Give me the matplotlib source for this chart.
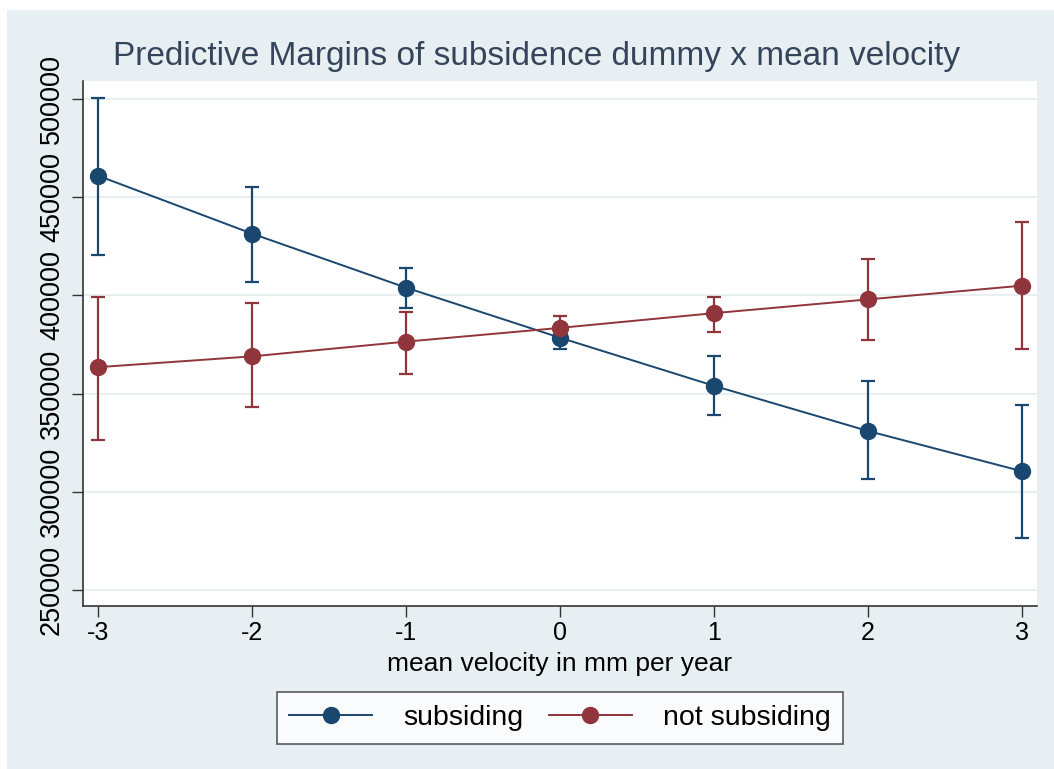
import matplotlib
matplotlib.use('Agg')
import matplotlib.pyplot as plt
from matplotlib.patches import Rectangle

plt.rcParams['font.family'] = ['Liberation Sans', 'DejaVu Sans']
plt.rcParams['axes.unicode_minus'] = False

# mean velocity (mm per year)
velocity = [-3, -2, -1, 0, 1, 2, 3]

# predictive margins with 95% confidence bounds
subsiding = [461000, 431500, 404000, 378500, 354000, 331000, 310500]
subsiding_lo = [420500, 407000, 393500, 372800, 339000, 306500, 276500]
subsiding_hi = [500500, 455000, 414000, 382500, 369000, 356500, 344000]

not_subsiding = [363500, 369000, 376500, 383500, 391000, 398000, 405000]
not_subsiding_lo = [326500, 343000, 360000, 377500, 381500, 377500, 372500]
not_subsiding_hi = [399000, 396000, 391500, 389500, 399000, 418500, 437500]

y_ticks = [250000, 300000, 350000, 400000, 450000, 500000]

navy = '#1a476f'
maroon = '#90353b'
panel = '#e8eff2'

fig = plt.figure(figsize=(10.54, 7.69), dpi=100)
fig.patch.set_facecolor('white')
fig.patches.append(Rectangle((7 / 1054, 0), 1, 1 - 10 / 769,
                             transform=fig.transFigure, facecolor=panel,
                             edgecolor='none', zorder=-10))

ax = fig.add_axes([83 / 1054, 163 / 769, 954 / 1054, 525 / 769])
ax.set_facecolor('white')


def draw_series(y, lo, hi, color, label):
    yerr = [[v - l for v, l in zip(y, lo)], [h - v for v, h in zip(y, hi)]]
    ax.errorbar(velocity, y, yerr=yerr, fmt='none', ecolor=color,
                elinewidth=1.6, capsize=5, capthick=1.6, zorder=2)
    ax.plot(velocity, y, color=color, lw=1.4, marker='o', markersize=11.5,
            markerfacecolor=color, markeredgecolor=color, label=label,
            zorder=3)


draw_series(subsiding, subsiding_lo, subsiding_hi, navy, 'subsiding')
draw_series(not_subsiding, not_subsiding_lo, not_subsiding_hi, maroon,
            'not subsiding')

ax.set_xlim(-3.097, 3.097)
ax.set_ylim(241900, 509200)
ax.set_xticks(velocity)
ax.set_yticks(y_ticks)
ax.set_yticklabels([str(t) for t in y_ticks], rotation=90, va='center',
                   fontsize=19.5)
ax.tick_params(axis='x', labelsize=18, length=8, width=1, color='#333333',
               pad=3)
ax.tick_params(axis='y', length=8, width=1, color='#333333', pad=5)
ax.grid(axis='y', color='#e3ecef', lw=1.2)
ax.set_axisbelow(True)

for side in ('top', 'right'):
    ax.spines[side].set_visible(False)
for side in ('left', 'bottom'):
    ax.spines[side].set_color('#333333')
    ax.spines[side].set_linewidth(1.2)

ax.set_xlabel('mean velocity in mm per year', fontsize=19, labelpad=5)
fig.text(0.509, 0.927, 'Predictive Margins of subsidence dummy x mean velocity',
         ha='center', va='center', fontsize=24, color='#34445a')

leg = fig.legend(loc='center', bbox_to_anchor=(560 / 1054, 1 - 718 / 769),
                 ncol=2, fontsize=20.5, frameon=True, fancybox=False,
                 edgecolor='#333333', handlelength=2.9, handletextpad=1.1,
                 columnspacing=0.9, borderpad=0.45, borderaxespad=0)
leg.get_frame().set_linewidth(1.2)

fig.savefig('out.png', dpi=100, facecolor=fig.get_facecolor())
